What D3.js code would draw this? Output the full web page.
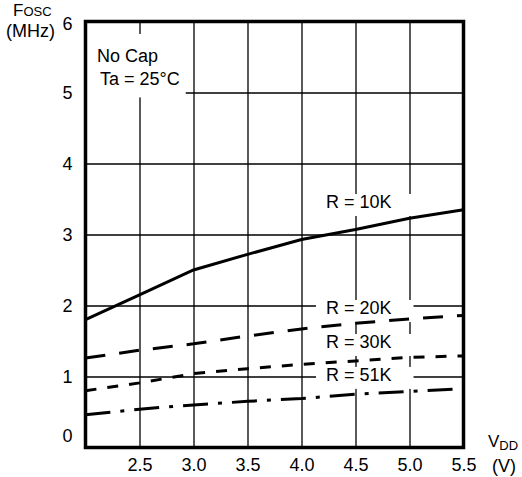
<!DOCTYPE html>
<html>
<head>
<meta charset="utf-8">
<script src="https://cdn.jsdelivr.net/npm/d3@7"></script>
<style>
  html, body { margin: 0; padding: 0; background: #fff; }
  svg { display: block; font-family: "Liberation Sans", Arial, Helvetica, sans-serif; }
</style>
</head>
<body>
<svg id="chart" width="522" height="477"></svg>
<script>
// ---- data ----
const vdd   = [2.0, 2.5, 3.0, 3.5, 4.0, 4.5, 5.0, 5.5];
const r10k  = [1.80, 2.15, 2.50, 2.72, 2.93, 3.07, 3.23, 3.35];
const r20k  = [1.26, 1.37, 1.46, 1.57, 1.67, 1.75, 1.81, 1.86];
const r30k  = [0.80, 0.91, 1.04, 1.11, 1.17, 1.22, 1.27, 1.29];
const r51k  = [0.46, 0.54, 0.60, 0.65, 0.69, 0.75, 0.79, 0.83];
const seriesNames = ["R = 10K", "R = 20K", "R = 30K", "R = 51K"];
const xTicks = [2.5, 3.0, 3.5, 4.0, 4.5, 5.0, 5.5];
const xTickLabels = ["2.5", "3.0", "3.5", "4.0", "4.5", "5.0", "5.5"];
const yTicks = [0, 1, 2, 3, 4, 5, 6];
const yTickLabels = ["0", "1", "2", "3", "4", "5", "6"];
const noteLines = ["No Cap", "Ta = 25°C"];

// ---- layout ----
const svg = d3.select("#chart");
const L = 85.5, R = 463.5, T = 21.5, B = 447.5;
const x = d3.scaleLinear().domain([2.0, 5.5]).range([L, R]);
const y = d3.scaleLinear().domain([0, 6]).range([B, T]);

// grid lines
svg.append("g")
  .attr("transform", `translate(0,${B})`)
  .call(d3.axisBottom(x).tickValues(xTicks.slice(0, -1)).tickSize(-(B - T)).tickFormat(""))
  .call(g => g.select(".domain").remove())
  .call(g => g.selectAll("line").attr("stroke", "#000").attr("stroke-width", 1.3));
svg.append("g")
  .attr("transform", `translate(${L},0)`)
  .call(d3.axisLeft(y).tickValues(yTicks.slice(1, -1)).tickSize(-(R - L)).tickFormat(""))
  .call(g => g.select(".domain").remove())
  .call(g => g.selectAll("line").attr("stroke", "#000").attr("stroke-width", 1.3));

// tick labels
svg.append("g")
  .attr("transform", `translate(0,${B})`)
  .call(d3.axisBottom(x).tickValues(xTicks).tickSize(0).tickPadding(10.5)
        .tickFormat((d, i) => xTickLabels[i]))
  .call(g => g.select(".domain").remove())
  .call(g => g.selectAll("text").attr("font-size", 18).attr("fill", "#000")
        .attr("font-family", "Liberation Sans, Arial, sans-serif"));
svg.append("g")
  .attr("transform", `translate(${L},0)`)
  .call(d3.axisLeft(y).tickValues(yTicks).tickSize(0).tickPadding(13)
        .tickFormat((d, i) => yTickLabels[i]))
  .call(g => g.select(".domain").remove())
  .call(g => g.selectAll("text").attr("font-size", 18).attr("fill", "#000")
        .attr("font-family", "Liberation Sans, Arial, sans-serif")
        .attr("dy", d => d === 0 ? "-0.35em" : (d === 6 ? "0.45em" : "0.32em")));

// annotation: No Cap / Ta
const noteG = svg.append("g");
const noteBox = noteG.append("rect").attr("fill", "#fff");
const noteText = noteG.selectAll("text.note").data(noteLines).join("text")
  .attr("class", "note")
  .attr("x", (d, i) => x(i === 0 ? 2.106 : 2.134))
  .attr("y", (d, i) => y(i === 0 ? 5.43 : 5.10))
  .attr("font-size", 18).attr("fill", "#000")
  .text(d => d);
{
  let bb = null;
  noteText.each(function () {
    const b = this.getBBox();
    if (!bb) bb = { x0: b.x, y0: b.y, x1: b.x + b.width, y1: b.y + b.height };
    else { bb.x0 = Math.min(bb.x0, b.x); bb.y0 = Math.min(bb.y0, b.y); bb.x1 = Math.max(bb.x1, b.x + b.width); bb.y1 = Math.max(bb.y1, b.y + b.height); }
  });
  noteBox.attr("x", L).attr("y", bb.y0 - 12).attr("width", bb.x1 + 6 - L).attr("height", bb.y1 - bb.y0 + 20);
}

// series labels with white backing boxes
const labelY = [3.373, 1.880, 1.401, 0.938];
const labG = svg.append("g");
seriesNames.forEach((name, i) => {
  const g = labG.append("g");
  const r = g.append("rect").attr("fill", "#fff");
  const t = g.append("text")
    .attr("x", x(4.53)).attr("y", y(labelY[i]))
    .attr("text-anchor", "middle").attr("font-size", 18).attr("fill", "#000")
    .text(name);
  const b = t.node().getBBox();
  r.attr("x", b.x - 10).attr("y", b.y + 2).attr("width", b.width + 32).attr("height", b.height + 2);
});

// curves
const line = d3.line().x(d => x(d[0])).y(d => y(d[1]));
const series = [
  { values: r10k, dash: null },
  { values: r20k, dash: "20,14" },
  { values: r30k, dash: "11,11" },
  { values: r51k, dash: "25,10,4,10" }
];
svg.append("g").selectAll("path").data(series).join("path")
  .attr("d", s => line(vdd.map((v, i) => [v, s.values[i]])))
  .attr("fill", "none").attr("stroke", "#000").attr("stroke-width", 3)
  .attr("stroke-dasharray", s => s.dash);

// frame
svg.append("rect")
  .attr("x", L).attr("y", T).attr("width", R - L).attr("height", B - T)
  .attr("fill", "none").attr("stroke", "#000").attr("stroke-width", 3.5);

// axis titles
const fy = svg.append("text").attr("x", 13).attr("y", 16).attr("fill", "#000");
fy.append("tspan").attr("font-size", 17).text("F");
fy.append("tspan").attr("font-size", 13).text("OSC");
svg.append("text").attr("x", 6).attr("y", 37).attr("font-size", 18).attr("fill", "#000").text("(MHz)");

const fx = svg.append("text").attr("x", 488).attr("y", 447).attr("fill", "#000");
fx.append("tspan").attr("font-size", 17).text("V");
fx.append("tspan").attr("font-size", 13).attr("dy", 3).text("DD");
svg.append("text").attr("x", 492).attr("y", 472).attr("font-size", 18).attr("fill", "#000").text("(V)");
</script>
</body>
</html>
